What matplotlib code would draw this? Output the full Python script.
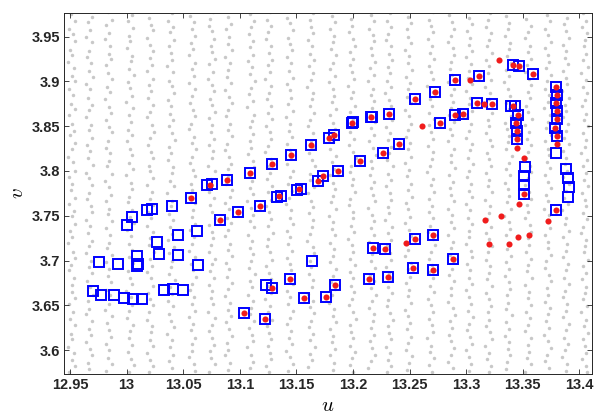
import numpy as np
import matplotlib
matplotlib.use("Agg")
import matplotlib.pyplot as plt

# ---------------- data (u, v) ----------------
# blue squares
sq_u = [13.0000, 13.0044, 13.0182, 13.0221, 13.0398, 13.0569, 13.0713, 13.0751, 13.0884, 13.1087,
        13.1287, 13.1455, 13.1632, 13.1791, 13.1832, 13.1989, 13.2000, 13.2157, 13.2171, 13.2318,
        13.2548, 13.2725, 13.2904, 13.3111, 13.3412, 13.3470, 13.3594, 13.3792, 13.3801, 13.3794,
        13.3806, 13.3806, 13.3788, 13.3806, 13.3792, 13.3883, 13.3900, 13.3907, 13.3898, 13.3794,
        13.3394, 13.3432, 13.3456, 13.3441, 13.3447, 13.3447, 13.3520, 13.3514, 13.3514, 13.3512,
        13.3226, 13.3094, 13.2975, 13.2902, 13.2772, 13.2409, 13.2263, 13.2065, 13.1868, 13.1738,
        13.1688, 13.1541, 13.1505, 13.1364, 13.1329, 13.1178, 13.0981, 13.0825, 13.0619, 13.0451,
        13.0271, 13.0288, 13.0456, 13.0628, 13.0089, 13.0103, 13.0094, 12.9755, 12.9926, 12.9705,
        12.9770, 12.9888, 12.9976, 13.0059, 13.0138, 13.0330, 13.0412, 13.0495, 13.1641, 13.1040,
        13.1223, 13.1229, 13.1287, 13.1443, 13.1570, 13.1762, 13.1841, 13.2144, 13.2312, 13.2528,
        13.2705, 13.2881, 13.2180, 13.2286, 13.2551, 13.2705]
sq_v = [3.7397, 3.7482, 3.7567, 3.7574, 3.7611, 3.7697, 3.7841, 3.7852, 3.7904, 3.7982,
        3.8078, 3.8178, 3.8286, 3.8363, 3.8404, 3.8538, 3.8544, 3.8600, 3.8600, 3.8638,
        3.8808, 3.8882, 3.9019, 3.9063, 3.9186, 3.9174, 3.9086, 3.8938, 3.8852, 3.8760,
        3.8667, 3.8582, 3.8482, 3.8389, 3.8204, 3.8027, 3.7927, 3.7816, 3.7711, 3.7567,
        3.8730, 3.8722, 3.8630, 3.8538, 3.8444, 3.8352, 3.8049, 3.7944, 3.7844, 3.7741,
        3.8749, 3.8760, 3.8633, 3.8630, 3.8533, 3.8297, 3.8204, 3.8108, 3.7997, 3.7941,
        3.7889, 3.7797, 3.7791, 3.7722, 3.7708, 3.7611, 3.7538, 3.7449, 3.7327, 3.7289,
        3.7204, 3.7074, 3.7067, 3.6952, 3.7056, 3.6963, 3.6944, 3.6982, 3.6963, 3.6656,
        3.6619, 3.6611, 3.6586, 3.6567, 3.6567, 3.6667, 3.6686, 3.6674, 3.6993, 3.6419,
        3.6344, 3.6730, 3.6697, 3.6797, 3.6586, 3.6593, 3.6722, 3.6797, 3.6811, 3.6916,
        3.6897, 3.7016, 3.7141, 3.7130, 3.7244, 3.7289]

# red dots
red_u = [13.0569, 13.0735, 13.0884, 13.1087, 13.1287, 13.1455, 13.1632, 13.1791, 13.1832, 13.1995,
         13.2164, 13.2318, 13.2548, 13.2725, 13.2904, 13.3034, 13.3111, 13.3293, 13.3412, 13.3470,
         13.3594, 13.3792, 13.3801, 13.3794, 13.3806, 13.3806, 13.3788, 13.3806, 13.3801, 13.3794,
         13.3721, 13.3558, 13.3456, 13.3382, 13.3202, 13.3413, 13.3456, 13.3441, 13.3447, 13.3447,
         13.3447, 13.3512, 13.3512, 13.3467, 13.3306, 13.3167, 13.3226, 13.3161, 13.3094, 13.2975,
         13.2902, 13.2772, 13.2610, 13.2409, 13.2263, 13.2065, 13.1868, 13.1738, 13.1688, 13.1523,
         13.1346, 13.1178, 13.0981, 13.0825, 13.1040, 13.1223, 13.1287, 13.1443, 13.1570, 13.1762,
         13.1841, 13.2144, 13.2312, 13.2528, 13.2705, 13.2881, 13.2180, 13.2286, 13.2469, 13.2551,
         13.2705]
red_v = [3.7697, 3.7846, 3.7904, 3.7982, 3.8078, 3.8178, 3.8286, 3.8363, 3.8404, 3.8541,
         3.8600, 3.8638, 3.8808, 3.8882, 3.9019, 3.9019, 3.9063, 3.9244, 3.9186, 3.9174,
         3.9086, 3.8938, 3.8852, 3.8760, 3.8667, 3.8582, 3.8482, 3.8389, 3.8297, 3.7567,
         3.7441, 3.7289, 3.7267, 3.7186, 3.7186, 3.8726, 3.8630, 3.8538, 3.8444, 3.8352,
         3.8260, 3.8149, 3.7741, 3.7630, 3.7500, 3.7456, 3.8749, 3.8749, 3.8760, 3.8633,
         3.8630, 3.8533, 3.8504, 3.8297, 3.8204, 3.8108, 3.7997, 3.7941, 3.7889, 3.7794,
         3.7715, 3.7611, 3.7538, 3.7449, 3.6419, 3.6344, 3.6697, 3.6797, 3.6586, 3.6593,
         3.6722, 3.6797, 3.6811, 3.6916, 3.6897, 3.7016, 3.7141, 3.7130, 3.7197, 3.7244,
         3.7289]

# grey background points, read column by column:
# column centre u, then per point: u offset (in units of 1/1500) and v (in 0.001 above 3)
gray_col_u = [12.952, 12.967, 12.984, 13.003, 13.021, 13.039, 13.058, 13.075, 13.090, 13.110,
              13.126, 13.144, 13.163, 13.182, 13.199, 13.217, 13.232, 13.249, 13.269, 13.287,
              13.303, 13.320, 13.337, 13.355, 13.372, 13.388, 13.405]
gray_v_milli = [
    [975,968,959,953,945,935,930,922,915,906,900,892,885,875,869,862,853,845,840,831,824,816,810,800,793,785,779,770,763,755,750,741,733,726,720,710,703,695,689,680,673,665,658,652,643,635,628,618,612,604,597,589,582,576],
    [972,966,957,950,944,934,927,921,912,905,897,891,881,874,868,860,851,846,837,829,822,814,807,798,792,784,775,769,761,754,745,739,731,722,716,708,700,693,686,677,670,662,655,646,640,632,623,617,609,601,594,586,579],
    [977,969,963,954,947,940,931,925,918,909,903,894,888,880,871,865,857,849,843,834,826,820,811,805,797,789,782,773,767,758,752,744,736,729,720,714,706,698,691,683,676,667,661,652,645,638,630,622,615,607,600,591,585,577],
    [974,967,960,951,945,937,928,923,914,907,899,893,884,877,870,862,855,846,840,833,824,818,809,802,795,787,780,771,765,756,749,742,734,727,718,712,704,697,688,681,674,666,659,650,644,636,628,621,613,606,598,590,583,576],
    [971,963,957,948,941,934,926,918,912,903,896,889,881,874,866,860,851,844,837,829,821,815,806,800,792,784,777,769,762,754,747,739,732,725,717,709,702,694,687,680,672,664,657,650,642,634,627,620,611,605,597,589,582,575],
    [976,968,961,955,946,939,932,924,917,910,901,895,887,879,873,864,857,850,842,835,827,820,812,804,798,789,783,775,767,761,752,745,738,730,723,715,708,700,693,685,678,671,663,655,649,640,633,626,618,611,603,595,588,580],
    [973,966,958,951,943,936,929,920,914,906,898,891,884,876,868,861,853,847,838,831,824,816,809,801,794,786,779,771,764,756,749,741,734,726,719,711,704,696,689,682,674,667,659,652,644,637,629,622,614,607,599,592,584,577],
    [977,970,962,956,947,940,933,925,919,911,903,896,889,880,874,866,859,851,844,836,829,822,814,806,800,791,784,776,770,762,754,747,740,732,725,717,710,702,696,688,681,673,666,658,651,643,636,628,621,613,606,599,591,584,576],
    [972,964,958,950,942,935,927,921,913,905,898,890,883,876,868,861,853,846,839,830,823,816,808,802,793,786,779,771,764,757,748,742,734,727,719,712,705,697,690,682,675,668,660,653,645,638,631,623,616,608,600,594,586,578],
    [975,968,961,953,945,938,930,923,916,908,901,893,886,878,871,863,856,849,841,833,826,819,811,804,796,789,781,774,767,759,751,744,737,729,722,714,707,699,692,685,677,670,662,655,647,640,632,625,617,610,603,595,587,580],
    [977,969,962,955,947,940,932,924,918,910,903,895,887,880,873,865,858,850,843,836,828,821,813,806,798,791,783,776,768,761,754,746,739,731,724,716,709,701,694,686,679,672,664,657,649,642,634,627,619,612,605,597,590,582,575],
    [971,965,957,949,942,935,927,920,912,904,897,890,882,875,867,860,852,845,838,830,823,815,808,800,793,785,778,770,763,756,748,741,733,726,718,711,703,696,689,681,674,666,659,651,644,636,629,621,614,607,599,592,584,577],
    [976,969,961,954,946,939,931,924,917,909,902,894,887,880,872,865,857,850,842,834,827,820,812,805,797,790,782,775,767,760,753,745,738,730,722,715,708,700,693,685,678,671,663,655,648,641,633,626,618,611,603,596,589,581],
    [973,966,959,951,944,936,929,921,914,906,899,892,884,877,869,862,854,847,839,832,825,817,810,802,795,787,780,772,765,757,750,743,735,728,720,713,705,698,690,683,676,668,661,653,646,638,631,623,616,609,601,594,586,578],
    [977,970,962,955,947,940,933,925,918,910,903,895,888,881,873,866,858,851,843,836,829,821,814,806,799,791,784,776,769,762,754,747,739,732,724,717,710,702,695,687,680,672,665,657,650,643,635,628,620,613,605,598,591,583,576],
    [974,967,959,952,945,937,930,922,915,907,900,892,885,878,870,863,855,848,840,833,826,818,811,803,796,788,781,773,766,759,751,744,736,729,721,714,707,699,692,684,677,669,662,655,647,640,632,625,617,610,602,595,588,580],
    [976,968,961,953,946,939,931,924,916,909,901,894,887,879,872,864,857,849,842,835,827,820,812,805,797,790,783,775,768,760,753,745,738,731,723,716,708,701,693,686,679,671,664,656,649,641,634,627,619,612,604,597,589,582,575],
    [972,965,958,950,943,935,928,920,913,905,898,891,883,876,868,861,853,846,838,831,824,816,809,801,794,786,779,771,764,757,749,742,734,727,719,712,705,697,690,682,675,667,660,653,645,638,630,623,615,608,600,593,586,578],
    [977,969,962,955,947,940,932,925,917,910,903,895,888,880,873,865,858,851,843,836,828,821,813,806,799,791,784,776,769,761,754,747,739,732,724,717,709,702,695,687,680,672,665,657,650,643,635,628,620,613,605,598,591,583,576],
    [974,966,959,951,944,937,929,922,914,907,899,892,885,877,870,862,855,847,840,833,825,818,810,803,795,788,781,773,766,758,751,743,736,729,721,714,706,699,691,684,677,669,662,654,647,639,632,625,617,610,602,595,587,580],
    [971,964,956,949,941,934,927,919,912,904,897,889,882,875,867,860,852,845,837,830,823,815,808,800,793,785,778,771,763,756,748,741,733,726,719,711,704,696,689,681,674,667,659,652,644,637,629,622,615,607,600,592,585,577],
    [976,969,961,954,946,939,932,924,917,909,902,894,887,880,872,865,857,850,842,835,828,820,813,805,798,790,783,776,768,761,753,746,738,731,724,716,709,701,694,686,679,672,664,657,649,642,634,627,620,612,605,597,590,582,575],
    [973,965,958,951,943,936,928,921,913,906,899,891,884,876,869,861,854,847,839,832,824,817,809,802,795,787,780,772,765,757,750,743,735,728,720,713,705,698,691,683,676,668,661,653,646,639,631,624,616,609,601,594,587,579],
    [977,970,962,955,948,940,933,925,918,910,903,896,888,881,873,866,858,851,844,836,829,821,814,806,799,792,784,777,769,762,754,747,740,732,725,717,710,702,695,688,680,673,665,658,650,643,636,628,621,613,606,598,591,584,576],
    [974,967,959,952,944,937,929,922,915,907,900,892,885,877,870,862,855,848,840,833,825,818,810,803,796,788,781,773,766,758,751,744,736,729,721,714,706,699,692,684,677,669,662,654,647,640,632,625,617,610,602,595,588,580],
    [971,964,956,949,941,934,926,919,912,904,897,889,882,874,867,860,852,845,837,830,822,815,808,800,793,785,778,770,763,756,748,741,733,726,718,711,704,696,689,681,674,666,659,652,644,637,629,622,614,607,600,592,585,577],
    [976,968,961,954,946,939,931,924,916,909,902,894,887,879,872,864,857,850,842,835,827,820,812,805,798,790,783,775,768,761,753,746,738,731,723,716,709,701,694,686,679,671,664,657,649,642,634,627,619,612,605,597,590,582,575],
]
gray_du = [
    [-2,3,-5,1,4,-3,0,-6,2,-1,4,-4,1,-2,3,-5,0,2,-3,4,-1,-6,1,3,-4,0,-2,4,-5,2,-1,3,-3,0,-6,1,4,-2,-4,2,0,-1,3,-5,1,-3,4,-2,0,-6,2,-1,3,-4],
    [3,-2,1,-4,4,0,-3,2,-1,5,-4,1,-2,3,0,-5,2,-1,4,-3,1,-2,5,-4,0,3,-1,-3,2,4,-5,1,-2,3,0,-4,2,-1,4,-3,1,5,-2,0,-4,3,-1,2,-5,1,4,-2,0],
    [-1,4,-3,1,-5,2,0,3,-4,-1,4,-2,2,-5,1,3,-3,0,4,-1,-4,2,1,-2,4,-5,0,3,-3,1,-1,4,-4,2,0,-2,5,-3,1,-1,3,-4,2,0,-5,4,-2,1,3,-3,0,-1,4,-4],
    [2,-3,4,-1,0,-4,3,1,-2,5,-3,0,2,-5,4,-1,1,-3,3,-4,0,2,-2,4,-5,1,3,-1,-3,2,0,5,-4,1,-2,3,-1,4,-3,0,2,-5,1,3,-2,-4,4,0,-1,2,-3,1,5,-2],
    [-2,1,4,-4,0,3,-1,2,-5,4,-2,1,-3,3,0,-4,2,5,-1,-3,1,4,-2,0,3,-5,2,-1,4,-3,1,-4,3,0,-2,5,-1,2,-4,1,3,-3,0,4,-2,-5,2,1,-1,3,-4,0,4,-2],
    [1,-4,3,-1,4,-3,0,2,-5,3,-2,1,4,-4,0,-1,3,-3,2,5,-2,0,-4,3,1,-1,4,-5,2,0,-3,3,-1,1,-4,4,-2,2,0,-3,5,-1,1,-4,3,-2,0,4,-5,2,-1,3,-3,1],
    [-3,2,0,4,-2,1,-4,3,-1,2,-5,4,0,-3,1,3,-2,-4,2,0,5,-1,-3,1,4,-2,0,-5,3,1,-1,4,-3,2,0,-4,3,-2,1,5,-1,-3,2,0,4,-4,1,-2,3,-1,0,-5,2,4],
    [2,-2,-4,1,3,-1,0,4,-3,2,-5,1,3,-2,0,4,-4,1,-1,3,-3,2,0,-5,4,-1,1,-3,3,-2,0,5,-4,1,2,-1,-3,4,0,-2,3,-4,1,-1,2,-5,4,0,-3,1,3,-2,-1,4,-4],
    [0,3,-3,1,-1,4,-4,2,0,-2,3,-5,1,4,-1,-3,2,0,5,-2,-4,1,3,-1,0,-3,4,2,-5,1,-2,3,0,-4,2,-1,4,-3,1,-2,5,0,-4,2,-1,3,-3,1,4,-2,0,-5,2,-1],
    [-2,4,0,-3,2,-1,3,-4,1,-2,5,0,-3,2,-5,4,1,-1,3,-2,0,-4,2,4,-3,1,-1,3,-5,0,2,-2,4,-4,1,-1,3,0,-3,5,-2,1,-4,2,0,-1,4,-3,1,3,-5,0,2,-2],
    [1,-3,3,-1,-4,2,0,4,-2,1,-5,3,0,-3,2,-1,4,-4,1,2,-2,-5,3,0,1,-3,4,-1,2,-4,0,3,-2,5,-1,-3,1,4,-4,0,2,-2,3,-5,1,-1,4,-3,0,2,-2,1,3,-4,0],
    [-3,1,4,-2,0,3,-4,2,-1,5,-3,0,2,-2,4,-5,1,-1,3,-3,0,2,-4,4,1,-2,3,-1,-5,2,0,4,-3,1,-2,3,-4,0,2,-1,5,-3,1,-2,4,0,-4,2,-1,3,-5,1,4,-2],
    [2,-2,0,3,-4,1,-1,4,-3,2,0,-5,3,1,-2,4,-1,-4,2,0,3,-3,1,5,-2,-1,4,-4,0,2,-3,3,1,-1,-5,2,4,-2,0,-3,3,1,-4,2,-1,4,0,-3,2,-2,5,-1,1,-4],
    [-1,3,-4,2,0,-2,4,1,-3,3,-5,0,2,-1,4,-4,1,3,-2,0,-3,5,-1,2,-4,1,3,0,-2,4,-5,1,-1,3,-3,2,0,-4,4,1,-2,3,-1,-5,2,0,4,-3,1,-1,3,-4,2,0],
    [3,-1,0,-4,2,4,-2,1,-3,0,3,-5,2,-1,4,-3,1,0,-2,3,-4,2,5,-1,-3,1,0,4,-2,-4,2,1,-1,3,-5,0,2,-2,4,-3,1,-1,3,0,-4,2,5,-2,-1,1,-3,4,0,-2,2],
    [-2,2,-4,1,3,-1,0,4,-3,2,-5,1,-1,3,0,-3,4,-2,2,-4,1,5,-1,0,-3,3,-2,1,4,-5,0,2,-1,3,-4,1,0,-2,4,-3,2,-1,5,0,-4,3,1,-2,2,-3,0,4,-1,-5],
    [1,-3,3,-1,-4,2,0,4,-2,1,-3,3,-5,0,2,-1,4,-4,1,-2,3,0,-3,5,-1,2,-4,1,3,-2,0,-5,4,-1,2,-3,1,3,-4,0,2,-2,4,-1,-3,1,5,-2,0,3,-4,1,-1,2,-3],
    [-1,4,-2,0,3,-4,1,-1,5,-3,2,0,-2,4,-5,1,3,-1,-3,2,0,4,-4,1,-2,3,-1,5,-3,0,2,-4,1,3,-2,0,-5,4,-1,2,-3,1,0,4,-4,-1,2,-2,3,0,-3,5,1,-2],
    [2,-2,0,3,-4,1,-1,4,-3,0,2,-5,3,-1,1,-3,4,-2,0,2,-4,3,1,-1,-5,2,0,4,-3,1,-2,3,-1,-4,2,5,0,-2,1,-3,3,-1,4,-4,0,2,-2,1,3,-5,0,-1,4,-3,1],
    [-3,1,3,-1,-4,2,4,0,-2,1,-5,3,-1,2,0,-3,4,-2,1,-4,3,0,-1,5,-3,2,-2,0,4,-4,1,-1,3,-5,2,0,-2,4,1,-3,3,-1,0,-4,2,5,-2,1,-3,0,3,-1,-4,2],
    [0,3,-3,1,-1,4,-4,2,0,-2,3,-5,1,-1,4,-3,2,0,-4,3,1,-2,5,-1,-3,2,0,4,-4,1,-2,3,-1,0,-5,2,4,-3,1,-1,3,-4,0,2,-2,5,-1,-3,1,4,-4,0,2,-1],
    [2,-1,-4,3,0,-2,4,-3,1,-1,3,-5,2,0,-3,4,-1,1,-4,2,5,-2,0,3,-3,1,-1,4,-5,2,0,-2,3,-4,1,4,-1,-3,2,0,-2,5,-4,1,3,-1,0,-3,2,4,-5,1,-2,3,0],
    [-2,2,0,-4,3,1,-1,4,-3,2,-5,0,3,-2,1,4,-4,-1,2,0,-3,5,1,-2,3,-4,0,2,-1,4,-5,1,3,-3,0,-1,4,-2,2,-4,1,3,-1,0,-3,5,-2,2,-4,1,0,3,-1,-3],
    [1,-3,4,-1,-4,2,0,3,-2,-5,1,4,-1,2,-3,0,5,-4,1,-2,3,0,-3,2,4,-1,-5,1,3,-2,0,-4,2,4,-1,1,-3,3,0,-2,5,-4,1,-1,3,-3,2,0,-5,4,-1,1,-2,3,-4],
    [-1,3,-3,1,4,-4,0,2,-2,5,-1,-3,2,0,-5,3,1,-2,4,-4,0,2,-1,3,-3,1,4,-2,0,-5,2,-1,3,-4,1,0,4,-2,-3,2,5,-1,1,-4,3,0,-2,2,-5,1,4,-1,-3,2],
    [2,-2,0,4,-3,1,-1,3,-4,0,2,-5,4,-1,1,-3,3,0,-2,5,-4,1,-1,2,-3,4,0,-2,3,-5,1,-1,4,-3,2,0,-4,3,1,-2,5,-1,-3,2,0,-4,4,1,-2,3,-1,-5,2,0],
    [-2,1,-4,3,0,-1,2,-3,4,-5,1,-2,3,0,-4,2,-1,4,-3,1,0,-5,3,-2,2,-1,4,-4,0,1,-3,3,-2,-5,2,0,-1,4,-3,1,-4,2,0,-2,3,-5,1,-1,4,-3,0,2,-4,1,3],
]

x_ticks = [12.95, 13.0, 13.05, 13.1, 13.15, 13.2, 13.25, 13.3, 13.35, 13.4]
x_ticklabels = ["12.95", "13", "13.05", "13.1", "13.15", "13.2", "13.25", "13.3", "13.35", "13.4"]
y_ticks = [3.6, 3.65, 3.7, 3.75, 3.8, 3.85, 3.9, 3.95]
y_ticklabels = ["3.6", "3.65", "3.7", "3.75", "3.8", "3.85", "3.9", "3.95"]

# ---------------- assemble grey points ----------------
gu, gv = [], []
for cu, vs, ds in zip(gray_col_u, gray_v_milli, gray_du):
    n = min(len(vs), len(ds))
    gu.extend(cu + np.array(ds[:n]) / 1500.0)
    gv.extend(3.0 + np.array(vs[:n]) / 1000.0)

# ---------------- figure ----------------
plt.rcParams['font.family'] = ['Liberation Sans', 'DejaVu Sans']
plt.rcParams['mathtext.fontset'] = 'cm'
fig = plt.figure(figsize=(5.97, 4.17), dpi=100)
ax = fig.add_axes([0.1072, 0.1031, 0.8844, 0.8664])

ax.plot(gu, gv, 'o', ls='none', ms=2.5, mfc='#c8c8c8', mec='none', zorder=1)
ax.plot(sq_u, sq_v, 's', ls='none', ms=7.6, mfc='none', mec='#0000ff', mew=1.4, zorder=2)
ax.plot(red_u, red_v, 'o', ls='none', ms=4.4, mfc='#f01c1c', mec='none', zorder=3)

ax.set_xlim(12.9446, 13.4113)
ax.set_ylim(3.5733, 3.9767)
ax.set_xticks(x_ticks)
ax.set_xticklabels(x_ticklabels)
ax.set_yticks(y_ticks)
ax.set_yticklabels(y_ticklabels)

ax.tick_params(direction='in', length=3.6, width=0.6, top=True, right=True,
               labelsize=10.5, colors='#262626', pad=3)
for lab in ax.get_xticklabels() + ax.get_yticklabels():
    lab.set_fontweight('bold')
for sp in ax.spines.values():
    sp.set_color('#262626')
    sp.set_linewidth(0.7)

ax.set_xlabel(r'$u$', fontsize=15, labelpad=3)
ax.set_ylabel(r'$v$', fontsize=15, labelpad=3)

fig.savefig('out.png', dpi=100)
